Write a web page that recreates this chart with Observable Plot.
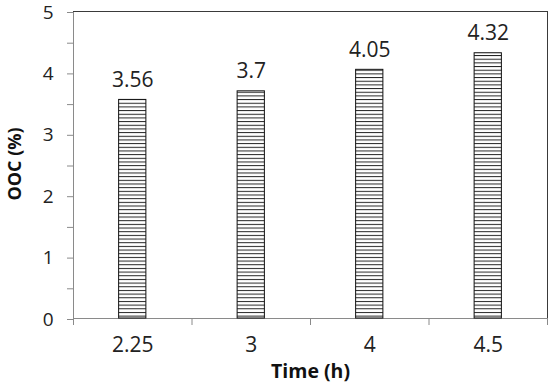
<!DOCTYPE html>
<html><head><meta charset="utf-8">
<script src="https://cdn.jsdelivr.net/npm/d3@7"></script>
<script src="https://cdn.jsdelivr.net/npm/@observablehq/plot@0.6"></script>
<style>body{margin:0;background:#fff}</style>
</head><body><div id="chart"></div>
<script>
const times = ["2.25", "3", "4", "4.5"];
const ooc = [3.56, 3.7, 4.05, 4.32];
const yTickValues = [0, 0.5, 1, 1.5, 2, 2.5, 3, 3.5, 4, 4.5, 5];
const xTitle = "Time (h)";
const yTitle = "OOC (%)";

const data = times.map((t, i) => ({t, i, v: ooc[i]}));
const barHalf = 0.115;

const chart = Plot.plot({
  width: 550, height: 386,
  marginLeft: 73, marginRight: 3, marginTop: 11, marginBottom: 68,
  style: {fontFamily: "'Open Sans', sans-serif", background: "white", color: "#222"},
  x: {domain: [0, times.length]},
  y: {domain: [0, 5]},
  marks: [
    Plot.ruleY([0], {stroke: "#8a8a8a"}),
    Plot.ruleX([0], {stroke: "#8a8a8a"}),
    Plot.ruleY([5], {stroke: "#3a3a3a"}),
    Plot.ruleX([times.length], {stroke: "#3a3a3a"}),
    Plot.axisY({ticks: yTickValues, tickSize: 6, tickPadding: 14, stroke: "#8a8a8a", dy: 1,
      tickFormat: d => Number.isInteger(d) ? String(d) : "", fontSize: 19, fill: "#222", label: null}),
    Plot.axisX({ticks: d3.range(0, times.length + 1), tickSize: 7, stroke: "#8a8a8a", tickFormat: () => "", label: null}),
    Plot.axisX({ticks: times.map((t, i) => i + 0.5), tickSize: 0, tickPadding: 19,
      tickFormat: d => times[Math.floor(d)], fontSize: 21, fill: "#222", label: null}),
    Plot.rectY(data, {x1: d => d.i + 0.5 - barHalf, x2: d => d.i + 0.5 + barHalf, y: "v",
      fill: "url(#hlines)", stroke: "#111", strokeWidth: 1}),
    Plot.text(data, {x: d => d.i + 0.5, y: "v", text: d => String(d.v), dy: -20, fontSize: 21, fill: "#222"}),
    Plot.text([xTitle], {frameAnchor: "bottom", lineAnchor: "middle", textAnchor: "middle", dy: 53, fontSize: 19.5, fontWeight: "bold", fill: "#111"}),
    Plot.text([yTitle], {frameAnchor: "left", lineAnchor: "middle", textAnchor: "middle", rotate: -90, dx: -58, dy: -1, fontSize: 18, fontWeight: "bold", fill: "#111"})
  ]
});

const defs = d3.select(chart).insert("defs", ":first-child");
const pat = defs.append("pattern").attr("id", "hlines").attr("patternUnits", "userSpaceOnUse")
  .attr("width", 10).attr("height", 3.67);
pat.append("rect").attr("width", 10).attr("height", 3.67).attr("fill", "white");
pat.append("line").attr("x1", 0).attr("x2", 10).attr("y1", 0.5).attr("y2", 0.5)
  .attr("stroke", "#222").attr("stroke-width", 1);

document.getElementById("chart").appendChild(chart);
</script>
</body></html>
